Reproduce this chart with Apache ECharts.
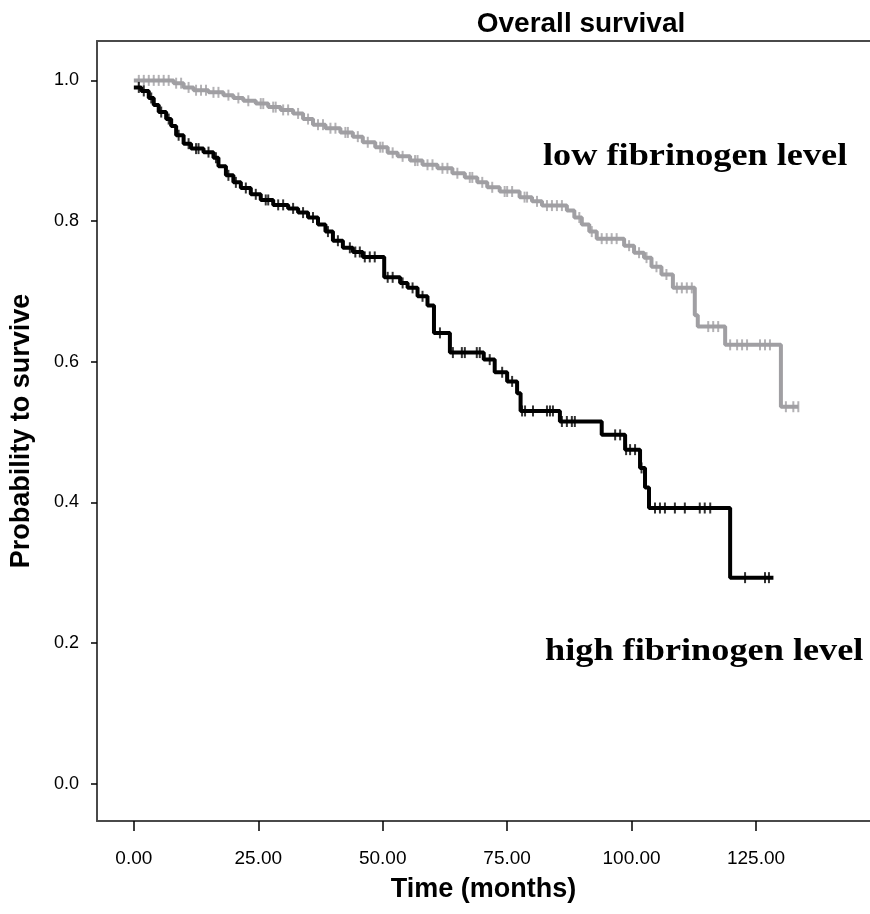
<!DOCTYPE html>
<html>
<head>
<meta charset="utf-8">
<title>Overall survival</title>
<script src="https://cdn.jsdelivr.net/npm/echarts@6/dist/echarts.min.js"></script>
<style>
  html, body { margin: 0; padding: 0; background: #ffffff; }
  #chart { width: 870px; height: 914px; }
</style>
</head>
<body>
<div id="chart"></div>
<script>
const xTicks = [0, 25, 50, 75, 100, 125];
const yTicks = [0, 0.2, 0.4, 0.6, 0.8, 1.0];

// high fibrinogen level: event times (months) and survival after each step
const highTimes = [0, 1.5, 3, 4, 5, 6.5, 7.5, 8.5, 10, 11.5, 14, 16, 17, 18.5, 20, 21.5, 23.5, 25.5, 28, 31, 33, 35, 37, 38.5, 40, 42, 44, 46, 50.3, 53.5, 55, 57, 59, 60.3, 63.5, 70.3, 72.5, 75, 77, 77.7, 85.6, 94, 98.7, 101.7, 102.7, 103.5, 119.8, 128.5];
const highSurv = [0.99, 0.985, 0.975, 0.965, 0.955, 0.945, 0.935, 0.922, 0.91, 0.903, 0.898, 0.89, 0.878, 0.865, 0.855, 0.847, 0.838, 0.83, 0.823, 0.818, 0.812, 0.805, 0.795, 0.785, 0.772, 0.762, 0.756, 0.749, 0.72, 0.712, 0.705, 0.693, 0.68, 0.641, 0.613, 0.603, 0.585, 0.572, 0.555, 0.53, 0.515, 0.496, 0.475, 0.449, 0.421, 0.392, 0.293, 0.293];
const highCensored = [1, 2, 3.5, 5.5, 7, 9, 11, 12.5, 13, 15, 16.5, 19, 20.5, 22.5, 24.5, 26.5, 27, 29, 30, 32, 34, 36, 39, 41, 43.4, 44.5, 45.4, 46.4, 47.4, 48.4, 51, 52, 54, 56, 58, 61.5, 64.1, 65.9, 66.5, 68.9, 69.5, 71.5, 74, 76, 78, 78.6, 80.2, 83, 83.6, 84.2, 86, 87, 88, 88.6, 96.7, 97.7, 98.9, 99.7, 100.7, 102, 104.7, 105.7, 106.7, 108.7, 110.7, 113.7, 114.7, 115.8, 122.8, 126.8, 127.6];

// low fibrinogen level
const lowTimes = [0, 8, 10, 12, 15, 18, 20, 22, 24.5, 27, 29.5, 32, 34, 36, 38.5, 41.5, 44, 46, 48.5, 51, 53, 55.5, 58, 61, 64, 66.5, 69, 71, 73.5, 77.5, 80, 82, 87, 88.5, 90, 91.5, 93, 98.5, 100.5, 102.5, 104, 106, 108.3, 112.7, 113.3, 118.8, 130, 133.5];
const lowSurv = [1.0, 0.996, 0.99, 0.986, 0.983, 0.979, 0.975, 0.971, 0.967, 0.962, 0.958, 0.953, 0.945, 0.937, 0.932, 0.926, 0.92, 0.912, 0.905, 0.897, 0.892, 0.886, 0.88, 0.875, 0.868, 0.862, 0.855, 0.848, 0.842, 0.834, 0.828, 0.822, 0.815, 0.805, 0.795, 0.785, 0.775, 0.765, 0.755, 0.748, 0.735, 0.724, 0.705, 0.666, 0.65, 0.624, 0.536, 0.536];
const lowCensored = [1, 2, 3, 4, 5, 6, 7, 8.5, 9.5, 11, 12.5, 13.5, 14.5, 16, 17, 19, 21, 23, 25.5, 26, 28, 28.5, 30, 31, 33, 35, 37, 38, 39.5, 40.5, 42.5, 43, 45, 47, 49.5, 50, 52, 54, 56.5, 57, 59, 60, 62, 63, 65, 67.5, 68, 70, 72, 74.5, 75, 76, 78.5, 79, 81, 83, 84, 85, 86, 89.5, 92, 94, 95, 96, 97, 99.5, 101.5, 103, 105, 107, 109.1, 110.1, 111.1, 112.1, 115.4, 116.4, 117.4, 119.8, 121.2, 122.2, 123.2, 125.8, 126.8, 127.8, 131, 132.5, 133.5];

function stepLookup(times, surv, t) {
  let v = surv[0];
  for (let i = 0; i < times.length; i++) {
    if (times[i] <= t) v = surv[i];
  }
  return v;
}

function pairs(times, surv) {
  return times.map((t, i) => [t, surv[i]]);
}

function censorPoints(times, surv, cens) {
  return cens.map(t => [t, stepLookup(times, surv, t)]);
}

let chartDom = document.querySelector('#chart');
let myChart = echarts.init(chartDom);

const axisColor = '#4a4a4a';
const grayColor = '#a09fa3';

let option = {
  animation: false,
  backgroundColor: '#ffffff',
  textStyle: { fontFamily: 'Liberation Sans' },
  title: {
    text: 'Overall survival',
    left: 576,
    top: 5,
    textAlign: 'center',
    textStyle: { fontSize: 28, fontWeight: 'bold', color: '#000000', fontFamily: 'Liberation Sans' }
  },
  grid: { left: 97, top: 41, right: 0, bottom: 93, outerBoundsMode: 'none' },
  xAxis: [
    {
      type: 'value',
      min: -7.4,
      max: 147.9,
      name: 'Time (months)',
      nameLocation: 'middle',
      nameGap: 55,
      nameTextStyle: { fontSize: 27, fontWeight: 'bold', color: '#000000' },
      splitLine: { show: false },
      axisLine: { show: true, onZero: false, lineStyle: { color: axisColor, width: 2 } },
      axisTick: { show: true, customValues: xTicks, length: 10, lineStyle: { color: '#000000', width: 1.5 } },
      axisLabel: {
        customValues: xTicks,
        margin: 28,
        fontSize: 19,
        color: '#000000',
        formatter: v => v.toFixed(2)
      }
    },
    {
      type: 'value',
      position: 'top',
      min: -7.4,
      max: 147.9,
      axisLine: { show: true, onZero: false, lineStyle: { color: axisColor, width: 2 } },
      axisTick: { show: false },
      axisLabel: { show: false },
      splitLine: { show: false }
    }
  ],
  yAxis: {
    type: 'value',
    min: -0.053,
    max: 1.056,
    name: 'Probability to survive',
    nameLocation: 'middle',
    nameGap: 62,
    nameTextStyle: { fontSize: 27, fontWeight: 'bold', color: '#000000' },
    splitLine: { show: false },
    axisLine: { show: true, onZero: false, lineStyle: { color: axisColor, width: 2 } },
    axisTick: { show: true, customValues: yTicks, length: 6, lineStyle: { color: '#000000', width: 1.5 } },
    axisLabel: {
      customValues: yTicks,
      margin: 18,
      fontSize: 18,
      color: '#000000',
      formatter: v => v.toFixed(1)
    }
  },
  graphic: [
    {
      type: 'text',
      x: 543,
      y: 141,
      scaleX: 1.17,
      style: { text: 'low fibrinogen level', font: 'bold 31px "Liberation Serif"', fill: '#000000' }
    },
    {
      type: 'text',
      x: 545,
      y: 636,
      scaleX: 1.17,
      style: { text: 'high fibrinogen level', font: 'bold 31px "Liberation Serif"', fill: '#000000' }
    }
  ],
  series: [
    {
      name: 'low fibrinogen level',
      type: 'line',
      step: 'end',
      showSymbol: false,
      lineStyle: { color: grayColor, width: 4 },
      data: pairs(lowTimes, lowSurv),
      z: 2
    },
    {
      name: 'low censored',
      type: 'scatter',
      symbol: 'rect',
      symbolSize: [2, 11],
      itemStyle: { color: grayColor },
      data: censorPoints(lowTimes, lowSurv, lowCensored),
      z: 3
    },
    {
      name: 'high fibrinogen level',
      type: 'line',
      step: 'end',
      showSymbol: false,
      lineStyle: { color: '#000000', width: 4 },
      data: pairs(highTimes, highSurv),
      z: 4
    },
    {
      name: 'high censored',
      type: 'scatter',
      symbol: 'rect',
      symbolSize: [2, 11],
      itemStyle: { color: '#000000' },
      data: censorPoints(highTimes, highSurv, highCensored),
      z: 5
    }
  ]
};

myChart.setOption(option);
</script>
</body>
</html>
